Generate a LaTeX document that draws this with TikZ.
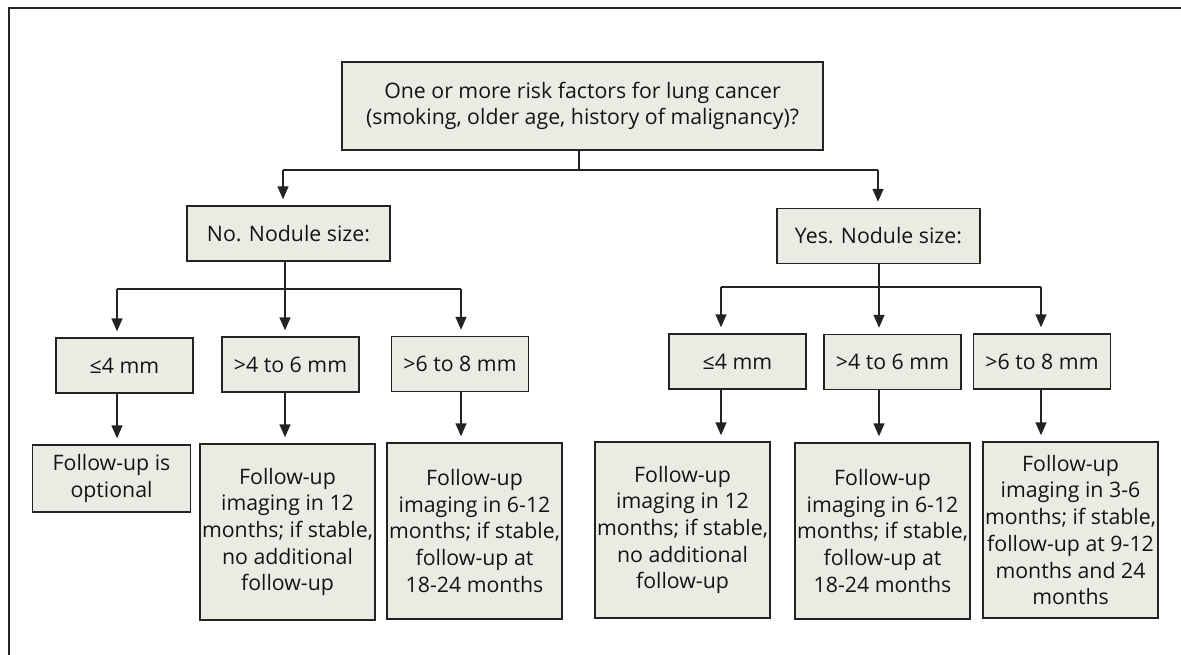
\documentclass[tikz,border=0pt]{standalone}
\usepackage{fontspec}
\setmainfont{Open Sans}
\usetikzlibrary{arrows.meta}
\definecolor{boxfill}{RGB}{235,235,227}
\definecolor{edge}{RGB}{35,35,35}
\definecolor{txt}{RGB}{20,20,20}
\begin{document}
\begin{tikzpicture}[x=1pt,y=-1pt,
  box/.style={draw=edge,line width=1.4pt,fill=boxfill,align=center,inner sep=0pt,
    text=txt,font=\fontsize{21.3}{26.7}\selectfont},
  topbox/.style={box,minimum width=481pt,minimum height=88pt},
  midbox/.style={box,minimum width=203pt,minimum height=55pt},
  sizebox/.style={box,minimum width=137pt,minimum height=55pt},
  leafbox/.style={box,minimum width=175pt,minimum height=176pt},
  ln/.style={draw=edge,line width=1.4pt},
  arr/.style={ln,-{Triangle[length=13pt,width=11pt]},shorten >=6pt}]
\useasboundingbox (0,0) rectangle (1181,655);
% frame
\draw[ln,line width=2pt] (9,655) -- (9,8.5) -- (1181,8.5);

% nodes
\node[topbox] (top) at (582.5,106) {One or more risk factors for lung cancer\\(smoking, older age, history of malignancy)?};
\node[midbox] (no) at (288.5,233.5) {No. Nodule size:};
\node[midbox] (yes) at (878.5,236) {Yes. Nodule size:};

\node[sizebox] (l1) at (124.5,365.5) {≤4 mm};
\node[sizebox] (l2) at (290.5,364.5) {>4 to 6 mm};
\node[sizebox] (l3) at (460,364) {>6 to 8 mm};
\node[sizebox] (r1) at (737.5,361.5) {≤4 mm};
\node[sizebox] (r2) at (892.5,362) {>4 to 6 mm};
\node[sizebox] (r3) at (1042,361.5) {>6 to 8 mm};

\node[box,minimum width=158pt,minimum height=67pt] (ll1) at (111.5,478.5) {Follow-up is\\optional};
\node[leafbox] (ll2) at (287.5,532) {Follow-up\\imaging in 12\\months; if stable,\\no additional\\follow-up};
\node[leafbox] (ll3) at (474.5,531) {Follow-up\\imaging in 6-12\\months; if stable,\\follow-up at\\18-24 months};
\node[leafbox] (rl1) at (682.5,530) {Follow-up\\imaging in 12\\months; if stable,\\no additional\\follow-up};
\node[leafbox] (rl2) at (882.5,531) {Follow-up\\imaging in 6-12\\months; if stable,\\follow-up at\\18-24 months};
\node[leafbox] (rl3) at (1070.5,530) {Follow-up\\imaging in 3-6\\months; if stable,\\follow-up at 9-12\\months and 24\\months};

% junction coordinates
\coordinate (tj) at (579,170);
\coordinate (tl) at (283,170);
\coordinate (tr) at (878,170);
\coordinate (nj) at (285,289);
\coordinate (nl) at (117,289);
\coordinate (nr) at (461,289);
\coordinate (yj) at (879,287);
\coordinate (yl) at (721,287);
\coordinate (yr) at (1041,287);

% top level
\draw[ln] (top.south -| tj) -- (tj);
\draw[ln] (tl) -- (tr);
\draw[arr] (tl) -- (tl |- no.north);
\draw[arr] (tr) -- (tr |- yes.north);

% no branch
\draw[ln] (no.south -| nj) -- (nj);
\draw[ln] (nl) -- (nr);
\draw[arr] (nl) -- (nl |- l1.north);
\draw[arr] (nj) -- (nj |- l2.north);
\draw[arr] (nr) -- (nr |- l3.north);
\draw[arr] (nl |- l1.south) -- (nl |- ll1.north);
\draw[arr] (nj |- l2.south) -- (nj |- ll2.north);
\draw[arr] (nr |- l3.south) -- (nr |- ll3.north);

% yes branch
\draw[ln] (yes.south -| yj) -- (yj);
\draw[ln] (yl) -- (yr);
\draw[arr] (yl) -- (yl |- r1.north);
\draw[arr] (yj) -- (yj |- r2.north);
\draw[arr] (yr) -- (yr |- r3.north);
\draw[arr] (yl |- r1.south) -- (yl |- rl1.north);
\draw[arr] (yj |- r2.south) -- (yj |- rl2.north);
\draw[arr] (yr |- r3.south) -- (yr |- rl3.north);
\end{tikzpicture}
\end{document}
